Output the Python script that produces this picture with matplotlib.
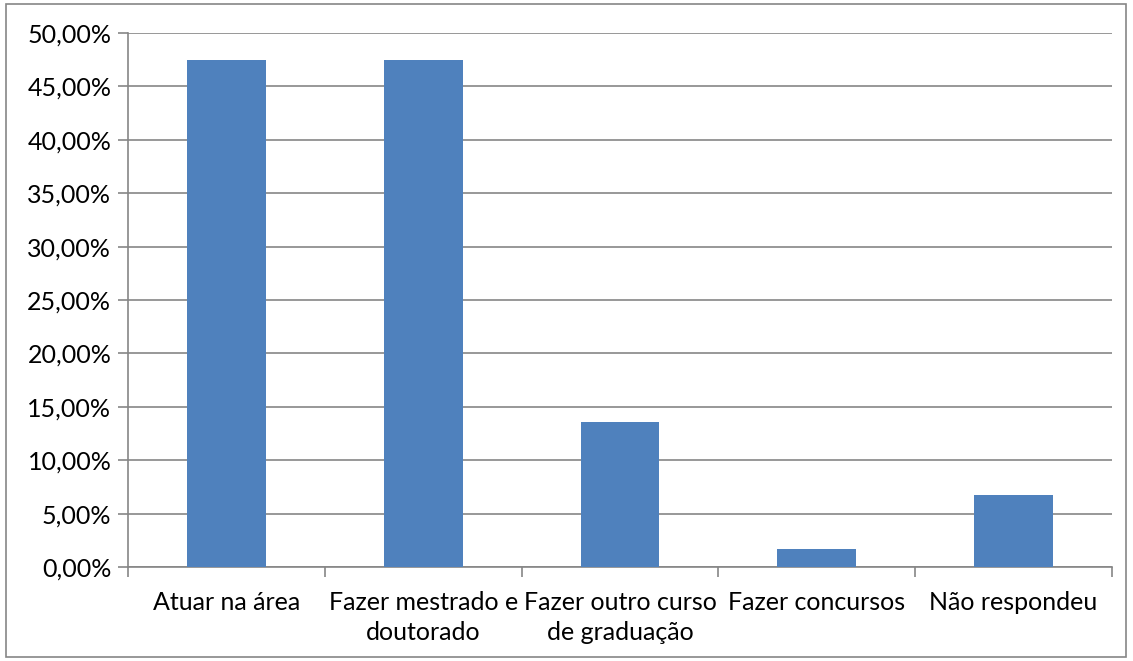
import matplotlib
matplotlib.use("Agg")
import matplotlib.pyplot as plt
from matplotlib.patches import Rectangle
from matplotlib.ticker import FuncFormatter, MultipleLocator

categories = ["Atuar na área", "Fazer mestrado e\ndoutorado", "Fazer outro curso\nde graduação",
              "Fazer concursos", "Não respondeu"]
values = [47.46, 47.46, 13.56, 1.69, 6.78]

plt.rcParams['font.family'] = ['Lato', 'DejaVu Sans']

fig = plt.figure(figsize=(11.33, 6.61), dpi=100)
ax = fig.add_axes([128/1133, 1 - 567/661, (1112-128)/1133, (567-33)/661])

x = list(range(len(categories)))
ax.bar(x, values, width=0.40, color="#4F81BD", zorder=3)

ax.set_xlim(-0.5, len(categories) - 0.5)
ax.set_ylim(0, 50)
ax.yaxis.set_major_locator(MultipleLocator(5))
ax.yaxis.set_major_formatter(FuncFormatter(lambda v, p: f"{v:.2f}%".replace(".", ",")))
ax.grid(axis="y", color="#868686", linewidth=1.2, zorder=0)

ax.set_xticks(x)
ax.set_xticklabels(categories, fontsize=18, linespacing=1.4)
ax.tick_params(axis="x", length=0, pad=17)
ax.set_xticks([i - 0.5 for i in range(len(categories) + 1)], minor=True)
ax.tick_params(axis="x", which="minor", length=7, color="#868686", width=1.2)
ax.tick_params(axis="y", length=7, color="#868686", width=1.2, labelsize=18, pad=5)

for s in ["top", "right"]:
    ax.spines[s].set_visible(False)
for s in ["left", "bottom"]:
    ax.spines[s].set_color("#868686")
    ax.spines[s].set_linewidth(1.2)

fig.patches.append(Rectangle((6/1133, 4/661), 1120/1133, 653/661, transform=fig.transFigure,
                             fill=False, edgecolor="#868686", linewidth=1.2))

fig.savefig("out.png", dpi=100)
